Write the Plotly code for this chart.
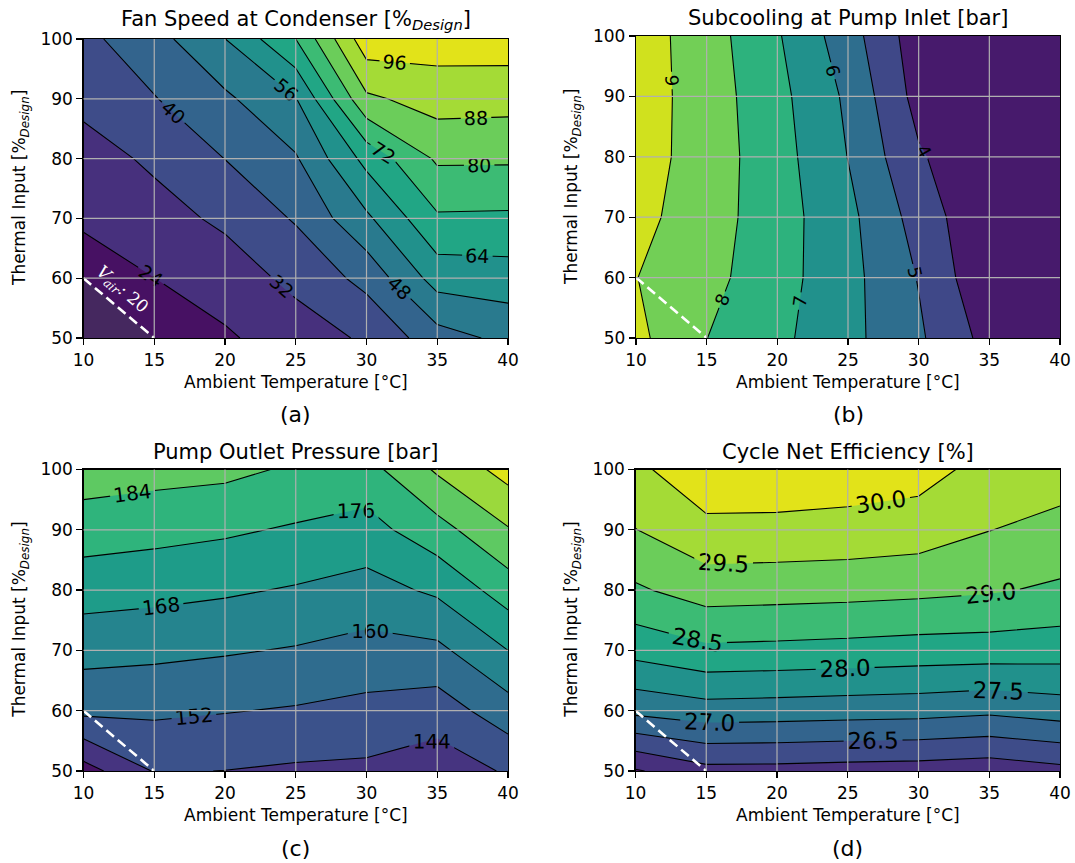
import math
import plotly.graph_objects as go

# ---------------- data ----------------
ambient_temp = [10, 15, 20, 25, 30, 35, 40]
thermal_input = [50, 60, 70, 80, 90, 100]

x_ticks = [10, 15, 20, 25, 30, 35, 40]
y_ticks = [50, 60, 70, 80, 90, 100]

# rows: thermal input 50 -> 100, columns: ambient temperature 10 -> 40
fan_speed = [
    [16.5, 19.0, 22.8, 28.5, 33.0, 44.7, 50.0],
    [20.7, 23.95, 28.3, 33.8, 42.5, 59.4, 60.3],
    [25.0, 29.4, 33.3, 40.8, 54.5, 70.9, 70.6],
    [29.1, 33.2, 40.1, 47.2, 66.5, 81.2, 81.1],
    [33.8, 39.6, 46.5, 55.6, 86.5, 91.5, 91.0],
    [38.0, 45.0, 55.9, 72.0, 101.0, 99.7, 100.0],
]

subcooling = [
    [9.25, 8.01, 7.23, 6.29, 5.15, 3.65, 3.10],
    [9.02, 8.31, 7.39, 6.32, 4.95, 3.14, 3.05],
    [9.31, 8.44, 7.45, 6.26, 4.60, 3.07, 3.03],
    [9.48, 8.52, 7.41, 5.98, 4.12, 3.12, 3.04],
    [9.52, 8.51, 7.30, 5.82, 3.64, 3.10, 3.04],
    [9.51, 8.46, 7.10, 5.44, 3.44, 3.10, 3.05],
]

pump_pressure = [
    [132.6, 144.5, 143.9, 142.8, 142.4, 139.4, 144.9],
    [153.9, 153.4, 152.4, 151.3, 149.7, 147.9, 156.5],
    [162.8, 162.0, 160.8, 159.4, 157.3, 158.1, 168.0],
    [171.4, 170.4, 169.1, 167.3, 165.0, 169.4, 179.9],
    [179.8, 178.6, 177.2, 175.1, 173.0, 181.0, 191.4],
    [188.2, 186.9, 186.0, 182.9, 181.1, 193.1, 203.0],
]

efficiency = [
    [25.45, 25.84, 25.83, 25.79, 25.76, 25.69, 25.85],
    [27.13, 27.29, 27.26, 27.22, 27.19, 27.10, 27.24],
    [28.17, 28.40, 28.37, 28.33, 28.28, 28.26, 28.22],
    [28.93, 29.23, 29.20, 29.17, 29.12, 29.05, 28.92],
    [29.49, 29.86, 29.85, 29.82, 29.75, 29.51, 29.35],
    [29.88, 30.38, 30.37, 30.29, 30.20, 29.82, 29.73],
]

# V_air = 20 limit line
vair_x = [10, 15]
vair_y = [60, 50]

titles = [
    "Fan Speed at Condenser [%<sub><i>Design</i></sub>]",
    "Subcooling at Pump Inlet [bar]",
    "Pump Outlet Pressure [bar]",
    "Cycle Net Efficiency [%]",
]
panel_labels = ["(a)", "(b)", "(c)", "(d)"]
x_title = "Ambient Temperature [°C]"
y_title = "Thermal Input [%<sub><i>Design</i></sub>]"

# contour levels (start, end, step)
levels = [
    (24, 96, 8),
    (4, 9, 1),
    (136, 200, 8),
    (25.5, 30.0, 0.5),
]

# ---------------- styling ----------------
VIRIDIS = ["#440154", "#471365", "#482475", "#463480", "#414487", "#3b528b",
           "#355f8d", "#2f6c8e", "#2a788e", "#25848e", "#21918c", "#1e9c89",
           "#22a884", "#2fb47c", "#44bf70", "#5ec962", "#7ad151", "#9bd93c",
           "#bddf26", "#dfe318", "#fde725"]


def hex2rgb(h):
    h = h.lstrip("#")
    return tuple(int(h[i:i + 2], 16) for i in (0, 2, 4))


def viridis(t):
    t = min(max(t, 0.0), 1.0) * 20
    i = min(int(math.floor(t)), 19)
    f = t - i
    a, b = hex2rgb(VIRIDIS[i]), hex2rgb(VIRIDIS[i + 1])
    c = [round(a[k] + (b[k] - a[k]) * f) for k in range(3)]
    return "rgb(%d,%d,%d)" % tuple(c)


def band_colorscale(n_levels):
    nb = n_levels + 1
    return [[j / n_levels, viridis((j + 0.5) / nb)] for j in range(nb)]


W, H = 1075, 863
FONT = "DejaVu Sans"
# plot areas in window pixels (left, right, top, bottom)
areas = [
    (83.5, 508.0, 39.0, 338.0),
    (636.0, 1060.0, 36.0, 338.0),
    (83.5, 508.0, 469.5, 771.0),
    (635.5, 1060.0, 469.5, 771.0),
]
label_sizes = [19, 18, 20, 23]
label_formats = [".0f", ".0f", ".0f", ".1f"]
z_data = [fan_speed, subcooling, pump_pressure, efficiency]

fig = go.Figure()
layout = dict(width=W, height=H, margin=dict(l=0, r=0, t=0, b=0, autoexpand=False),
              paper_bgcolor="white", plot_bgcolor="white", showlegend=False,
              font=dict(family=FONT, color="black", size=17))
annotations = []
shapes = []

for p in range(4):
    sfx = "" if p == 0 else str(p + 1)
    xa, ya = "x" + sfx, "y" + sfx
    l, r, t, b = areas[p]
    start, end, step = levels[p]
    n_lev = int(round((end - start) / step)) + 1

    fig.add_trace(go.Contour(
        x=ambient_temp, y=thermal_input, z=z_data[p],
        xaxis=xa, yaxis=ya,
        autocontour=False,
        contours=dict(start=start, end=end, size=step, coloring="fill",
                      showlabels=True,
                      labelfont=dict(size=label_sizes[p], color="black", family=FONT),
                      labelformat=label_formats[p]),
        line=dict(color="black", width=1.1, smoothing=0),
        colorscale=band_colorscale(n_lev),
        showscale=False, hoverinfo="skip",
    ))

    if p == 0:
        fig.add_trace(go.Scatter(
            x=[vair_x[0], x_ticks[0], vair_x[1], vair_x[0]],
            y=[vair_y[0], y_ticks[0], vair_y[1], vair_y[0]],
            xaxis=xa, yaxis=ya, mode="lines", fill="toself",
            fillcolor="#45285f", line=dict(width=0), hoverinfo="skip"))

    fig.add_trace(go.Scatter(
        x=vair_x, y=vair_y, xaxis=xa, yaxis=ya, mode="lines",
        line=dict(color="white", width=2.6, dash="10px,5px"), hoverinfo="skip"))

    axcommon = dict(ticks="outside", ticklen=6, tickwidth=1.2, tickcolor="black",
                    showline=True, linecolor="black", linewidth=1.2, mirror=True,
                    showgrid=False, zeroline=False, automargin=False,
                    tickfont=dict(size=17, family=FONT, color="black"))
    layout["xaxis" + sfx] = dict(domain=[l / W, r / W], range=[x_ticks[0], x_ticks[-1]],
                                 tickvals=x_ticks, anchor=ya, **axcommon)
    layout["yaxis" + sfx] = dict(domain=[1 - b / H, 1 - t / H], range=[y_ticks[0], y_ticks[-1]],
                                 tickvals=y_ticks, anchor=xa, **axcommon)

    # grid drawn above the filled contours
    for tv in x_ticks[1:-1]:
        shapes.append(dict(type="line", xref=xa, yref=ya + " domain", x0=tv, x1=tv,
                           y0=0, y1=1, layer="above",
                           line=dict(color="#b0b0b0", width=1.2)))
    for tv in y_ticks[1:-1]:
        shapes.append(dict(type="line", xref=xa + " domain", yref=ya, x0=0, x1=1,
                           y0=tv, y1=tv, layer="above",
                           line=dict(color="#b0b0b0", width=1.2)))

    # texts
    annotations.append(dict(text=titles[p], xref=xa + " domain", yref=ya + " domain",
                            x=0.5, y=1, xanchor="center", yanchor="bottom", yshift=4,
                            showarrow=False, font=dict(size=21, family=FONT, color="black")))
    annotations.append(dict(text=x_title, xref=xa + " domain", yref=ya + " domain",
                            x=0.5, y=0, xanchor="center", yanchor="middle", yshift=-44,
                            showarrow=False, font=dict(size=17, family=FONT, color="black")))
    annotations.append(dict(text=panel_labels[p], xref=xa + " domain", yref=ya + " domain",
                            x=0.5, y=0, xanchor="center", yanchor="middle", yshift=-77,
                            showarrow=False, font=dict(size=22, family=FONT, color="black")))
    annotations.append(dict(text=y_title, xref=xa + " domain", yref=ya + " domain",
                            x=0, y=0.5, xanchor="center", yanchor="middle", xshift=-63,
                            textangle=-90, showarrow=False,
                            font=dict(size=17, family=FONT, color="black")))

annotations.append(dict(text="<i>V</i><sub><i>air</i></sub><i>:</i> 20", xref="x", yref="y",
                        x=12.75, y=58.0, textangle=41, showarrow=False,
                        font=dict(size=17, family="DejaVu Serif", color="white")))

layout["annotations"] = annotations
layout["shapes"] = shapes
fig.update_layout(**layout)
fig.write_html("out.html",
               config={"displayModeBar": False, "staticPlot": True},
               post_script="document.body.style.margin='0';"
                           "document.body.style.overflow='hidden';")
